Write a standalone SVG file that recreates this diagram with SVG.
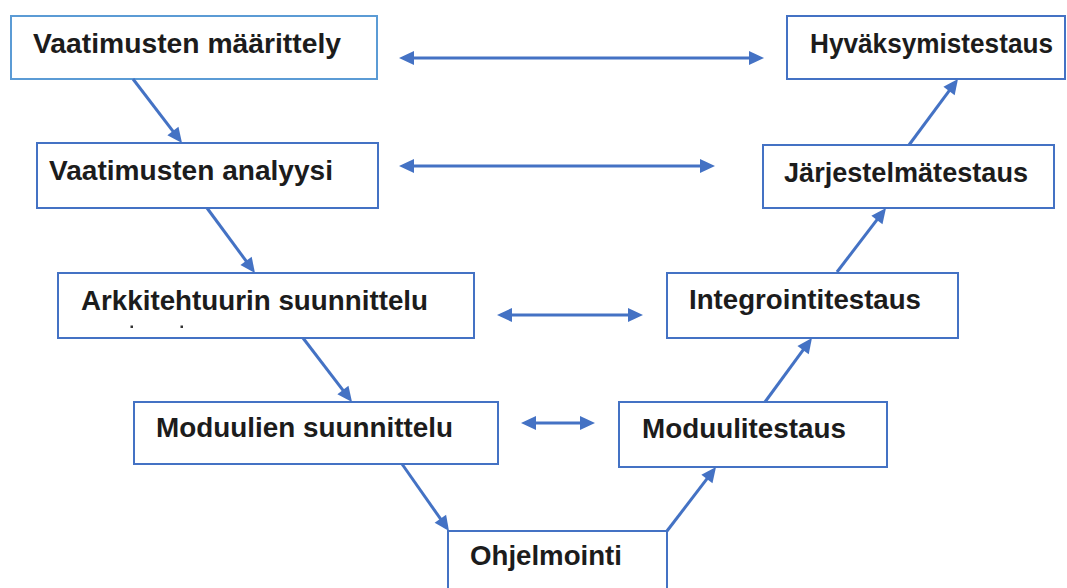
<svg xmlns="http://www.w3.org/2000/svg" width="1067" height="588" viewBox="0 0 1067 588">
  <style>
    .box { fill: #ffffff; stroke: #4472C4; stroke-width: 2; }
    .box.light { stroke: #5B9BD5; }
    .lbl { font-family: "Liberation Sans", Arial, sans-serif; font-size: 28px; font-weight: bold; fill: #1c1c1c; }
    .conn { stroke: #4472C4; stroke-width: 3; fill: none; }
    .arr { marker-end: url(#head); }
    .dbl { marker-start: url(#head); marker-end: url(#head); }
  </style>
  <defs>
    <marker id="head" viewBox="-16 -8 17 16" markerUnits="userSpaceOnUse" markerWidth="17" markerHeight="16" refX="-4" refY="0" orient="auto-start-reverse">
      <path d="M-15,-7 L0,0 L-15,7 z" fill="#4472C4"/>
    </marker>
  </defs>
  <rect width="1067" height="588" fill="#ffffff"/>

  <g id="n1">
    <rect class="box light" x="11" y="16" width="366" height="63"/>
    <text class="lbl" x="33" y="53" textLength="308" lengthAdjust="spacingAndGlyphs">Vaatimusten määrittely</text>
  </g>
  <g id="n2">
    <rect class="box" x="37" y="143" width="341" height="65"/>
    <text class="lbl" x="49" y="180" textLength="284" lengthAdjust="spacingAndGlyphs">Vaatimusten analyysi</text>
  </g>
  <g id="n3">
    <rect class="box" x="58" y="273" width="416" height="65"/>
    <text class="lbl" x="81" y="310" textLength="347" lengthAdjust="spacingAndGlyphs">Arkkitehtuurin suunnittelu</text>
    <rect x="130.5" y="325.5" width="2.5" height="2.5" fill="#333"/>
    <rect x="180.5" y="325.5" width="2.5" height="2.5" fill="#333"/>
  </g>
  <g id="n4">
    <rect class="box" x="134" y="402" width="364" height="62"/>
    <text class="lbl" x="156" y="437" textLength="297" lengthAdjust="spacingAndGlyphs">Moduulien suunnittelu</text>
  </g>
  <g id="n5">
    <rect class="box" x="448" y="531" width="219" height="70"/>
    <text class="lbl" x="470" y="565" textLength="152" lengthAdjust="spacingAndGlyphs">Ohjelmointi</text>
  </g>
  <g id="n6">
    <rect class="box" x="619" y="402" width="268" height="65"/>
    <text class="lbl" x="642" y="438" textLength="204" lengthAdjust="spacingAndGlyphs">Moduulitestaus</text>
  </g>
  <g id="n7">
    <rect class="box" x="667" y="273" width="291" height="65"/>
    <text class="lbl" x="689" y="309" textLength="232" lengthAdjust="spacingAndGlyphs">Integrointitestaus</text>
  </g>
  <g id="n8">
    <rect class="box" x="763" y="145" width="291" height="63"/>
    <text class="lbl" x="784" y="182" textLength="244" lengthAdjust="spacingAndGlyphs">Järjestelmätestaus</text>
  </g>
  <g id="n9">
    <rect class="box" x="787" y="16" width="278" height="63"/>
    <text class="lbl" x="810" y="53" textLength="243" lengthAdjust="spacingAndGlyphs">Hyväksymistestaus</text>
  </g>

  <g id="connectors">
    <line class="conn dbl" x1="403" y1="58" x2="760" y2="58"/>
    <line class="conn dbl" x1="403" y1="166" x2="711" y2="166"/>
    <line class="conn dbl" x1="501" y1="315" x2="639" y2="315"/>
    <line class="conn dbl" x1="525" y1="423" x2="591" y2="423"/>

    <line class="conn arr" x1="133" y1="79" x2="179.6" y2="139.8"/>
    <line class="conn arr" x1="207" y1="208" x2="252.6" y2="269.8"/>
    <line class="conn arr" x1="303" y1="338" x2="349.6" y2="398.8"/>
    <line class="conn arr" x1="402" y1="464" x2="446.7" y2="527.7"/>

    <line class="conn arr" x1="667" y1="531" x2="713.6" y2="470.2"/>
    <line class="conn arr" x1="765" y1="402" x2="809.6" y2="341.2"/>
    <line class="conn arr" x1="837" y1="272" x2="883.6" y2="211.2"/>
    <line class="conn arr" x1="909" y1="145" x2="955.6" y2="82.2"/>
  </g>
</svg>
